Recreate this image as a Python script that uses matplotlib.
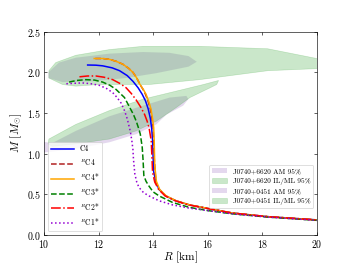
import numpy as np
from matplotlib import pyplot as plt
from matplotlib.patches import Polygon

plt.rcParams['font.family'] = 'serif'
plt.rcParams['font.serif'] = ['cmr10', 'DejaVu Serif']
plt.rcParams['mathtext.fontset'] = 'cm'
plt.rcParams['axes.formatter.use_mathtext'] = True

# mass-radius curves (R in km, M in Msun)
R_C4 = [11.6, 11.9, 12.15, 12.5, 12.77, 13.05, 13.26, 13.45, 13.6, 13.72, 13.82, 13.9, 13.95, 13.98, 14.0, 14.02,
        14.1, 14.22, 14.46, 14.83, 15.32, 15.94, 16.9, 18.2, 20.0]
M_C4 = [2.09, 2.088, 2.08, 2.055, 2.02, 1.96, 1.89, 1.81, 1.73, 1.65, 1.55, 1.43, 1.30, 1.16, 0.95, 0.78,
        0.65, 0.56, 0.48, 0.42, 0.37, 0.33, 0.27, 0.225, 0.185]

R_RC4 = [11.88, 12.15, 12.4, 12.65, 12.89, 13.1, 13.26, 13.4, 13.52, 13.63, 13.72, 13.82, 13.9, 13.96, 14.0,
         14.02, 14.04, 14.1, 14.22, 14.46, 14.83, 15.32, 15.94, 16.9, 18.2, 20.0]
M_RC4 = [2.17, 2.17, 2.16, 2.135, 2.10, 2.05, 2.0, 1.93, 1.85, 1.79, 1.73, 1.64, 1.55, 1.43, 1.32,
         1.15, 0.95, 0.65, 0.56, 0.48, 0.42, 0.37, 0.33, 0.27, 0.225, 0.185]

R_RC4s = [11.84, 12.15, 12.4, 12.65, 12.89, 13.1, 13.26, 13.4, 13.52, 13.64, 13.74, 13.84, 13.92, 13.98, 14.02,
          14.04, 14.06, 14.12, 14.24, 14.48, 14.85, 15.34, 15.95, 16.9, 18.2, 20.0]
M_RC4s = [2.17, 2.17, 2.16, 2.135, 2.10, 2.05, 2.0, 1.93, 1.85, 1.79, 1.73, 1.64, 1.55, 1.43, 1.32,
          1.15, 0.85, 0.66, 0.56, 0.48, 0.42, 0.37, 0.33, 0.27, 0.225, 0.185]

R_RC3s = [10.92, 11.2, 11.53, 11.85, 12.15, 12.42, 12.64, 12.95, 13.14, 13.28, 13.38, 13.47, 13.53, 13.6, 13.63,
          13.66, 13.74, 13.85, 14.0, 14.22, 14.71, 15.32, 16.0, 16.9, 18.2, 20.0]
M_RC3s = [1.88, 1.90, 1.91, 1.905, 1.88, 1.84, 1.79, 1.69, 1.57, 1.48, 1.40, 1.31, 1.24, 1.08, 0.93,
          0.73, 0.66, 0.60, 0.53, 0.48, 0.40, 0.34, 0.30, 0.26, 0.22, 0.18]

R_RC2s = [11.3, 11.6, 11.9, 12.2, 12.52, 12.8, 13.01, 13.2, 13.38, 13.55, 13.69, 13.78, 13.85, 13.93, 13.96, 13.98,
          14.06, 14.2, 14.44, 14.82, 15.3, 15.93, 16.9, 18.2, 20.0]
M_RC2s = [1.945, 1.955, 1.955, 1.94, 1.91, 1.86, 1.81, 1.74, 1.66, 1.57, 1.48, 1.40, 1.32, 1.16, 0.93, 0.77,
          0.65, 0.56, 0.48, 0.42, 0.37, 0.33, 0.27, 0.225, 0.185]

R_RC1s = [10.82, 11.1, 11.41, 11.72, 12.03, 12.3, 12.52, 12.68, 12.83, 12.95, 13.05, 13.16, 13.22, 13.26, 13.28,
          13.33, 13.4, 13.48, 13.65, 13.85, 14.22, 14.71, 15.32, 16.0, 16.9, 18.2, 20.0]
M_RC1s = [1.86, 1.865, 1.87, 1.86, 1.84, 1.80, 1.75, 1.69, 1.62, 1.53, 1.43, 1.28, 1.16, 1.05, 0.93,
          0.75, 0.65, 0.585, 0.52, 0.48, 0.42, 0.37, 0.33, 0.30, 0.26, 0.22, 0.18]

# credible regions (R, M) outlines
am6620 = [(10.16, 2.0), (10.55, 2.12), (11.17, 2.18), (12.4, 2.23), (13.63, 2.25), (14.6, 2.24), (15.3, 2.2),
          (15.6, 2.13), (15.3, 2.07), (14.12, 1.99), (13.0, 1.93), (11.78, 1.89), (10.68, 1.88), (10.16, 1.93)]
ilml6620 = [(10.18, 2.02), (10.43, 2.12), (11.17, 2.21), (12.4, 2.28), (13.63, 2.32), (15.7, 2.32), (18.2, 2.29),
            (20.3, 2.15), (20.3, 2.05), (18.2, 2.02), (15.7, 1.91), (13.85, 1.85), (12.0, 1.85), (11.17, 1.83),
            (10.68, 1.85), (10.18, 1.93)]
am0451 = [(9.9, 1.15), (10.3, 1.13), (11.17, 1.28), (12.4, 1.46), (13.63, 1.59), (14.61, 1.69), (15.22, 1.71),
          (15.29, 1.67), (15.1, 1.59), (14.49, 1.48), (14.3, 1.42), (14.12, 1.36), (13.38, 1.24), (12.4, 1.14),
          (11.17, 1.06), (9.9, 1.01)]
ilml0451 = [(10.15, 1.12), (10.18, 1.18), (11.17, 1.36), (12.4, 1.53), (13.63, 1.67), (14.86, 1.77),
            (15.84, 1.85), (16.4, 1.90), (16.33, 1.85), (16.09, 1.81), (15.35, 1.69), (14.86, 1.57),
            (14.12, 1.40), (13.38, 1.28), (12.4, 1.18), (11.17, 1.12), (10.3, 1.09)]

fig, ax = plt.subplots(figsize=(6.4, 4.8), dpi=55)

ax.add_patch(Polygon(am6620, closed=True, color='tab:purple', alpha=0.25, lw=0, label='J0740+6620 AM 95%'))
ax.add_patch(Polygon(ilml6620, closed=True, color='tab:green', alpha=0.25, lw=0.8, label='J0740+6620 IL/ML 95%'))
ax.add_patch(Polygon(am0451, closed=True, color='tab:purple', alpha=0.25, lw=0, label='J0740+0451 AM 95%'))
ax.add_patch(Polygon(ilml0451, closed=True, color='tab:green', alpha=0.25, lw=0.8, label='J0740+0451 IL/ML 95%'))

l1, = ax.plot(R_C4, M_C4, color='blue', lw=2, label='C4')
l2, = ax.plot(R_RC4, M_RC4, color='firebrick', ls='--', lw=2, label='$^{R}$C4')
l3, = ax.plot(R_RC4s, M_RC4s, color='orange', lw=2, label='$^{R}$C4*')
l4, = ax.plot(R_RC3s, M_RC3s, color='green', ls='--', lw=2, label='$^{R}$C3*')
l5, = ax.plot(R_RC2s, M_RC2s, color='red', ls='-.', lw=2, label='$^{R}$C2*')
l6, = ax.plot(R_RC1s, M_RC1s, color='darkviolet', ls=':', lw=2, label='$^{R}$C1*')

ax.set_xlim(10, 20)
ax.set_ylim(0, 2.5)
ax.set_xlabel('$R$ [km]', fontsize=15, labelpad=0)
ax.set_ylabel(r'$M$ $[M_{\odot}]$', fontsize=15)
ax.tick_params(direction='in', top=True, right=True, labelsize=13)

leg1 = ax.legend(handles=[l1, l2, l3, l4, l5, l6], loc='lower left', fontsize=10, handlelength=3.0)
ax.add_artist(leg1)
patches = ax.patches
ax.legend(handles=list(patches), loc='lower right', bbox_to_anchor=(1, 0.115), fontsize=9.5)

plt.savefig('out.png')
